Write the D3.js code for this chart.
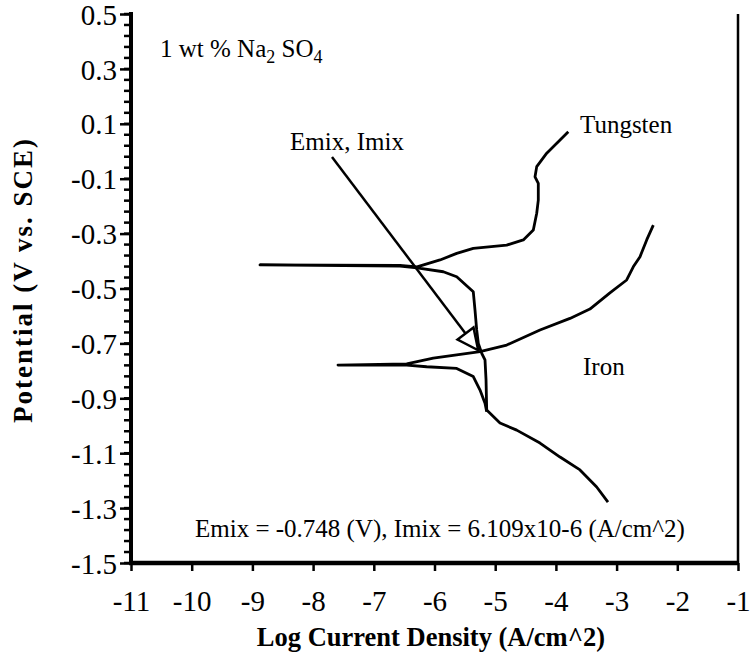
<!DOCTYPE html>
<html>
<head>
<meta charset="utf-8">
<script src="https://cdn.jsdelivr.net/npm/d3@7"></script>
<style>
  body { margin: 0; background: #fff; }
  svg text { font-family: "Liberation Serif", "Times New Roman", serif; fill: #000; }
  .tick-lbl { font-size: 29px; }
  .axis-title { font-size: 26.5px; font-weight: bold; }
  .note { font-size: 25px; }
  .curve { fill: none; stroke: #000; stroke-width: 2.8; stroke-linejoin: round; }
</style>
</head>
<body>
<div class="chart"></div>
<script>
// tick labels
var xTicks = [-11, -10, -9, -8, -7, -6, -5, -4, -3, -2, -1];
var yTicks = [0.5, 0.3, 0.1, -0.1, -0.3, -0.5, -0.7, -0.9, -1.1, -1.3, -1.5];

// Tungsten scan: [log i, E] from cathodic end up through Ecorr to anodic end
var tungsten = [
  [-3.142, -1.278], [-3.328, -1.223], [-3.603, -1.161], [-3.932, -1.114],
  [-4.262, -1.063], [-4.646, -1.016], [-4.921, -0.990], [-5.140, -0.943],
  [-5.151, -0.833], [-5.168, -0.760], [-5.222, -0.736], [-5.278, -0.700],
  [-5.305, -0.651], [-5.333, -0.578], [-5.361, -0.512], [-5.634, -0.457],
  [-5.855, -0.439], [-6.288, -0.425], [-6.568, -0.418], [-8.875, -0.414],
  [-6.568, -0.416], [-6.288, -0.421], [-5.909, -0.396], [-5.634, -0.372],
  [-5.361, -0.354], [-4.811, -0.342], [-4.537, -0.323], [-4.372, -0.287],
  [-4.316, -0.226], [-4.290, -0.178], [-4.290, -0.117], [-4.344, -0.093],
  [-4.316, -0.056], [-4.151, -0.007], [-3.932, 0.041], [-3.796, 0.071]
];

// Iron scan: [log i, E]
var iron = [
  [-5.140, -0.949], [-5.168, -0.918], [-5.250, -0.870], [-5.361, -0.821],
  [-5.634, -0.791], [-6.129, -0.785], [-6.458, -0.779], [-7.590, -0.779],
  [-6.458, -0.775], [-6.020, -0.754], [-5.634, -0.742], [-5.250, -0.730],
  [-4.810, -0.706], [-4.262, -0.651], [-3.768, -0.609], [-3.440, -0.575],
  [-3.110, -0.516], [-2.834, -0.469], [-2.725, -0.421], [-2.614, -0.384],
  [-2.504, -0.323], [-2.395, -0.269]
];

// arrow from label to mixed point
var arrowFrom = [-7.689, -0.021];
var arrowTo = [-5.28, -0.725];

var margin = {top: 14, right: 13, bottom: 101, left: 131},
    W = 751, H = 664,
    width = W - margin.left - margin.right,
    height = H - margin.top - margin.bottom;

var svg = d3.select(".chart").append("svg")
    .attr("width", W)
    .attr("height", H);

var x = d3.scaleLinear().domain([-11, -1]).range([margin.left, margin.left + width]);
var y = d3.scaleLinear().domain([-1.5, 0.5]).range([margin.top + height, margin.top]);

//y minor ticks
var minor = d3.range(0, 51).map(function(i){ return -1.5 + i * 0.04; });
svg.append("g").selectAll("line.minor")
  .data(minor).enter().append("line")
  .attr("x1", x(-11) - 7).attr("x2", x(-11))
  .attr("y1", function(d){ return y(d); })
  .attr("y2", function(d){ return y(d); })
  .style("stroke", "#000").style("stroke-width", 2.5);

//yAxis
var yAxis = d3.axisLeft(y).tickValues(yTicks).tickSizeInner(11).tickSizeOuter(0)
  .tickPadding(3).tickFormat(function(d){ return d3.format(".1f")(d).replace("−", "-"); });
var gy = svg.append("g").attr("transform", "translate(" + x(-11) + ",0)").call(yAxis);
gy.select(".domain").remove();
gy.selectAll(".tick line").style("stroke-width", 2.5);
gy.selectAll(".tick text").attr("class", "tick-lbl").attr("dy", "0.35em");
gy.attr("font-family", null).attr("font-size", null);

//xAxis
var xAxis = d3.axisBottom(x).tickValues(xTicks).tickSizeInner(8).tickSizeOuter(0)
  .tickPadding(19).tickFormat(function(d){ return String(d); });
var gx = svg.append("g").attr("transform", "translate(0," + y(-1.5) + ")").call(xAxis);
gx.select(".domain").remove();
gx.selectAll(".tick line").style("stroke-width", 2.5);
gx.selectAll(".tick text").attr("class", "tick-lbl");
gx.attr("font-family", null).attr("font-size", null);

// frame: thick left/bottom, thin right
svg.append("line").attr("x1", x(-11)).attr("x2", x(-11))
  .attr("y1", y(0.5) - 2).attr("y2", y(-1.5) + 2)
  .style("stroke", "#000").style("stroke-width", 4);
svg.append("line").attr("x1", x(-11) - 2).attr("x2", x(-1) + 1)
  .attr("y1", y(-1.5)).attr("y2", y(-1.5))
  .style("stroke", "#000").style("stroke-width", 4.5);
svg.append("line").attr("x1", x(-1)).attr("x2", x(-1))
  .attr("y1", y(0.5)).attr("y2", y(-1.5))
  .style("stroke", "#000").style("stroke-width", 2.5);

// curves
var line = d3.line().x(function(d){ return x(d[0]); }).y(function(d){ return y(d[1]); });
svg.append("path").datum(tungsten).attr("class", "curve").attr("d", line);
svg.append("path").datum(iron).attr("class", "curve").attr("d", line);

// arrow with open head
var ax1 = x(arrowFrom[0]), ay1 = y(arrowFrom[1]),
    ax2 = x(arrowTo[0]), ay2 = y(arrowTo[1]);
var ang = Math.atan2(ay2 - ay1, ax2 - ax1), hl = 21, hw = 10;
var bx = ax2 - hl * Math.cos(ang), by = ay2 - hl * Math.sin(ang);
svg.append("line").attr("x1", ax1).attr("y1", ay1).attr("x2", bx).attr("y2", by)
  .style("stroke", "#000").style("stroke-width", 2.5);
svg.append("path")
  .attr("d", "M" + ax2 + "," + ay2 +
    "L" + (bx + hw * Math.sin(ang)) + "," + (by - hw * Math.cos(ang)) +
    "L" + (bx - hw * Math.sin(ang)) + "," + (by + hw * Math.cos(ang)) + "Z")
  .style("fill", "#fff").style("stroke", "#000").style("stroke-width", 2.5)
  .style("stroke-linejoin", "miter");

// notes
svg.append("text").attr("class", "note").attr("x", 290).attr("y", 150).text("Emix, Imix");
svg.append("text").attr("class", "note").attr("x", 580).attr("y", 133).text("Tungsten");
svg.append("text").attr("class", "note").attr("x", 583).attr("y", 375).text("Iron");
svg.append("text").attr("class", "note").attr("x", 195).attr("y", 537)
  .text("Emix = -0.748 (V), Imix = 6.109x10-6 (A/cm^2)");

var sol = svg.append("text").attr("class", "note").attr("x", 160).attr("y", 57);
sol.append("tspan").text("1 wt % Na");
sol.append("tspan").attr("dy", 6).style("font-size", "18px").text("2");
sol.append("tspan").attr("dy", -6).text(" SO");
sol.append("tspan").attr("dy", 6).style("font-size", "18px").text("4");

// axis titles
svg.append("text").attr("class", "axis-title")
  .attr("x", 431).attr("y", 646).attr("text-anchor", "middle")
  .text("Log Current Density (A/cm^2)");
svg.append("text").attr("class", "axis-title")
  .attr("transform", "translate(32,280) rotate(-90)")
  .attr("text-anchor", "middle")
  .style("font-size", "27px").style("letter-spacing", "2px")
  .text("Potential (V vs. SCE)");
</script>
</body>
</html>
